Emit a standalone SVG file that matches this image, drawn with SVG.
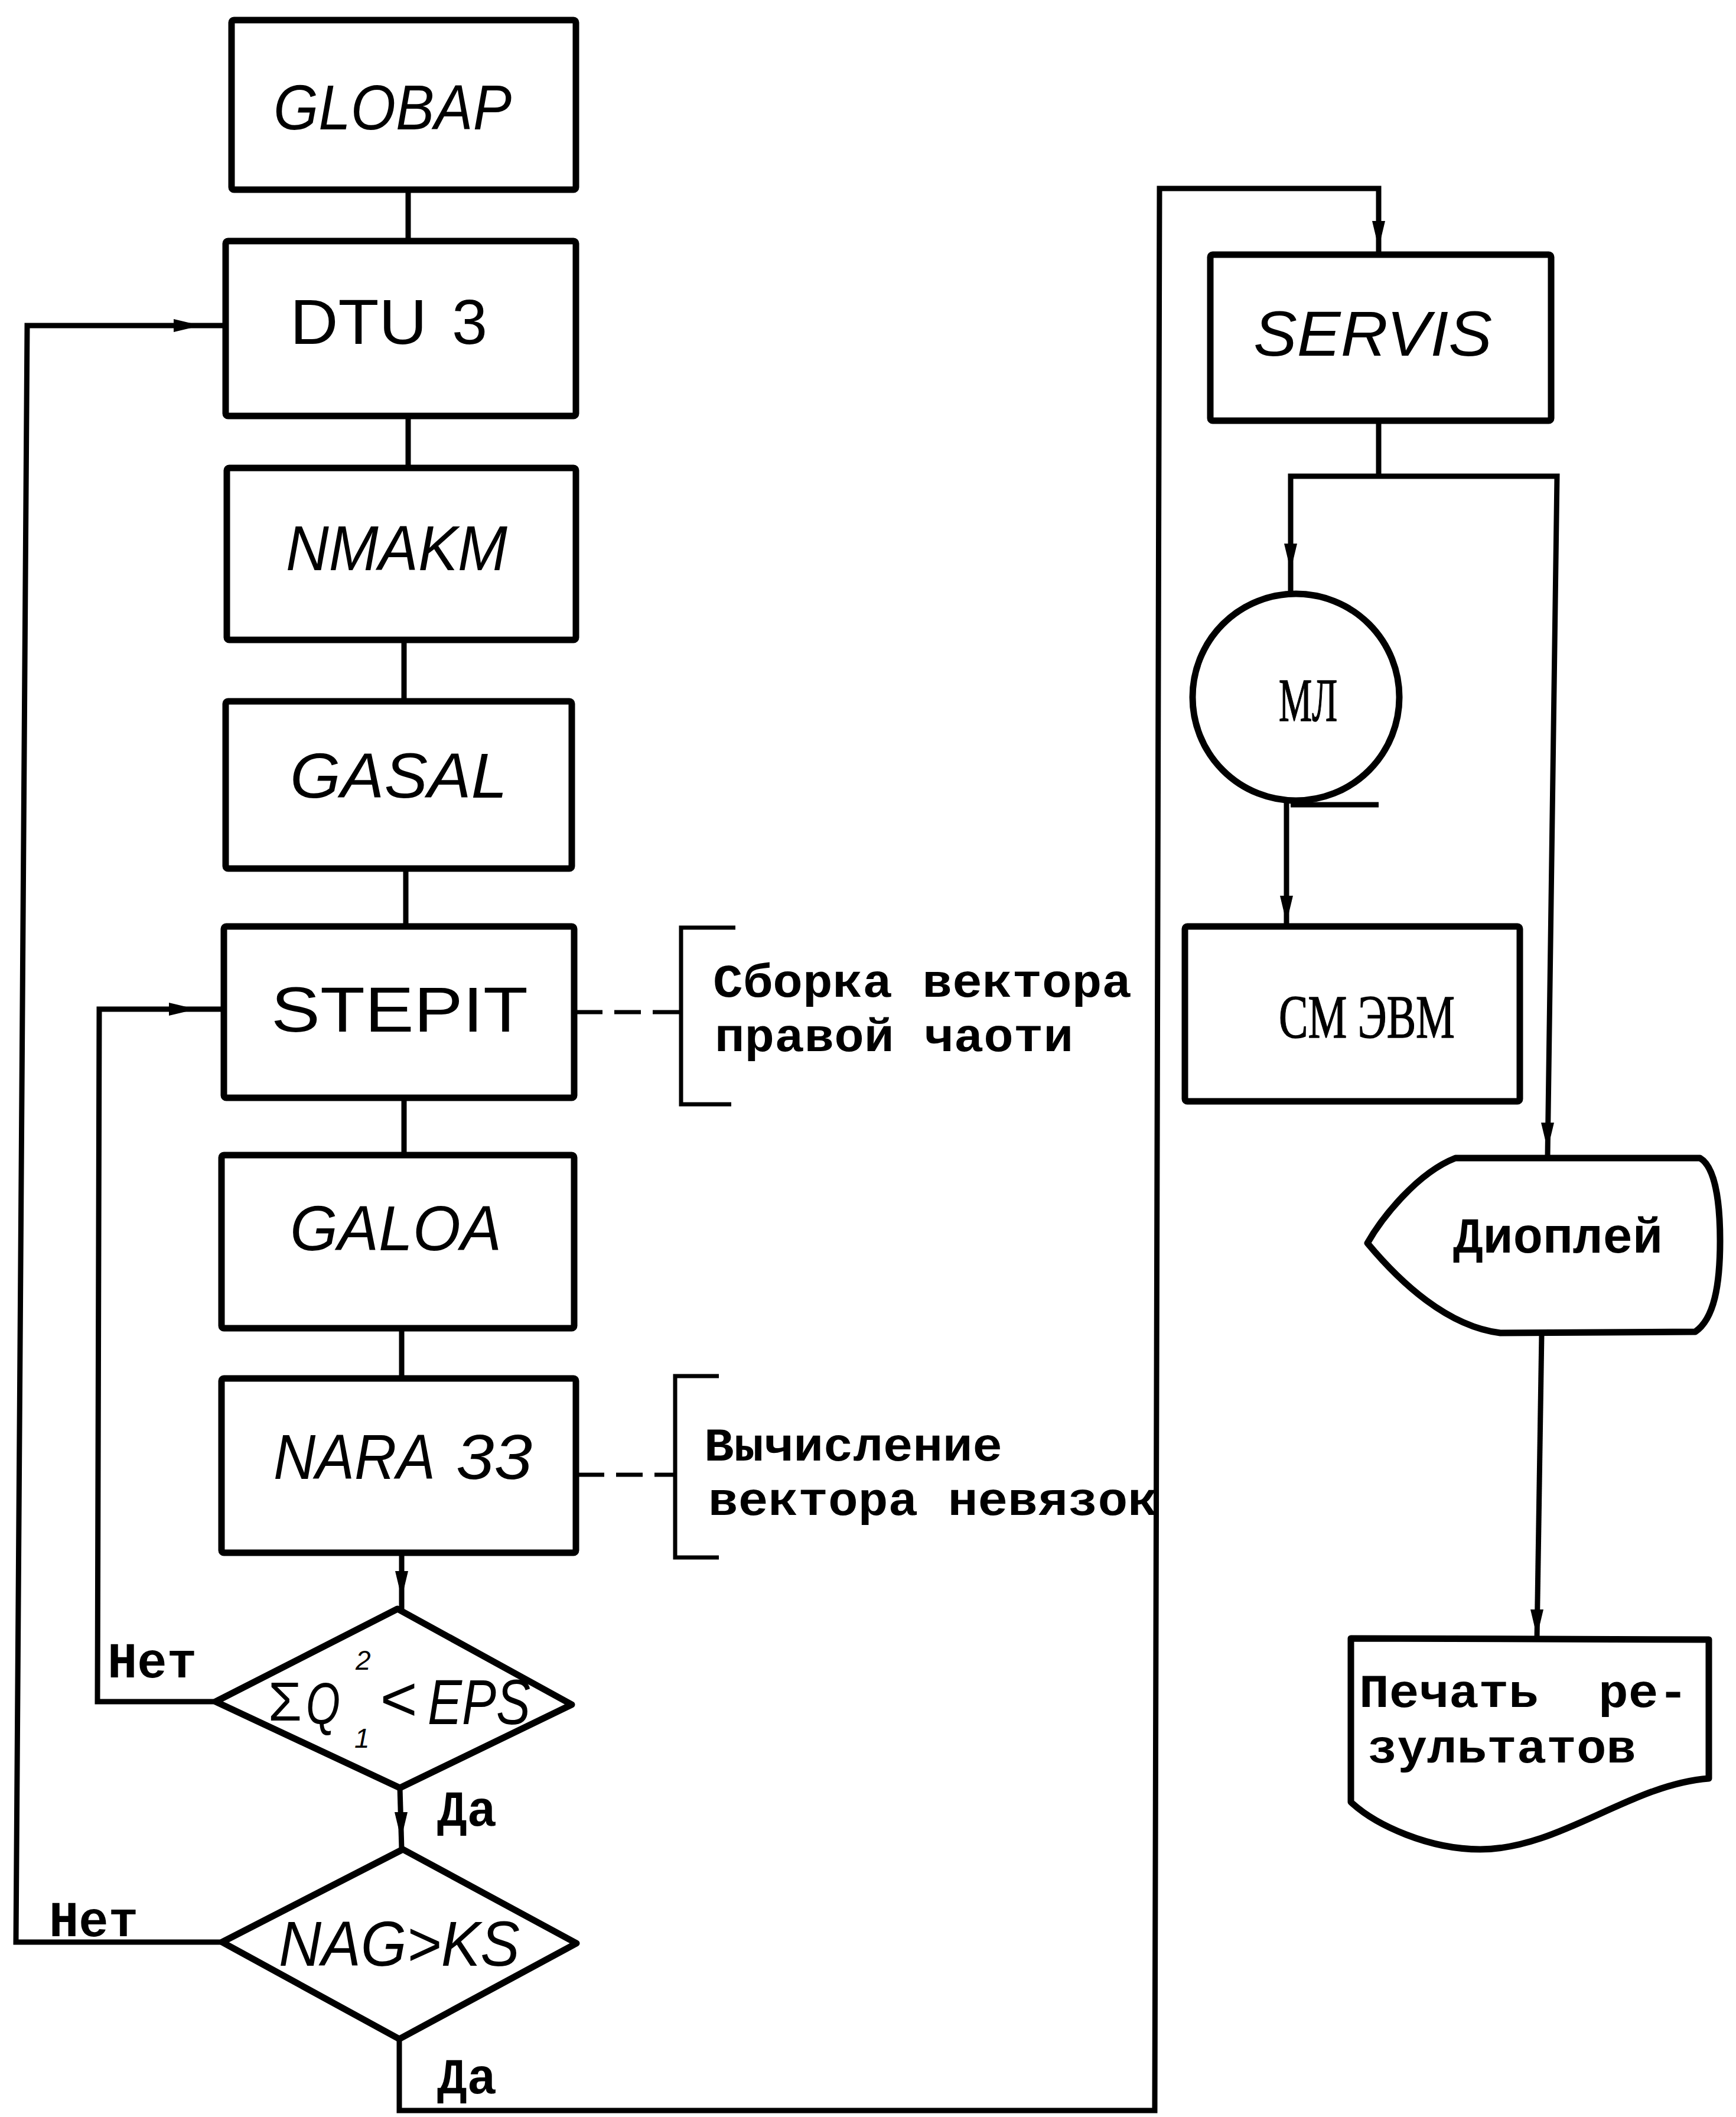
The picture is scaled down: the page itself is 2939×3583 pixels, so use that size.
<svg xmlns="http://www.w3.org/2000/svg" xmlns:xlink="http://www.w3.org/1999/xlink" width="2939" height="3583" viewBox="0 0 2939 3583">
<style>
.box{fill:#fff;stroke:#000;stroke-width:11;stroke-linejoin:round}
.ln{fill:none;stroke:#000;stroke-width:9;stroke-linejoin:miter}
.br{fill:none;stroke:#000;stroke-width:7}
.dash{fill:none;stroke:#000;stroke-width:7;stroke-dasharray:45 20}
.hand{font-family:"Liberation Sans",Arial,sans-serif;font-size:108px;font-style:italic;fill:#000}
.up{font-style:normal}
.tw{font-family:"Liberation Mono","Courier New",monospace;font-weight:bold;font-size:86px;fill:#000}
.tw2{font-size:80px}
.ser{font-family:"Liberation Serif","Times New Roman",serif;font-size:104px;fill:#000;stroke:#000;stroke-width:1.5}
</style>
<defs>
<path id="ah" d="M0,0 L-11,-46 L11,-46 Z" fill="#000"/>
</defs>
<rect width="2939" height="3583" fill="#fff"/>
<g id="c-stepit">
<path class="br" d="M1245,1570 H1153 V1869 H1238"/>
<text class="tw tw2" x="1207" y="1687" textLength="709" lengthAdjust="spacingAndGlyphs">Сборка вектора</text>
<text class="tw tw2" x="1210" y="1779" textLength="607" lengthAdjust="spacingAndGlyphs">правой чаоти</text>
</g>
<g id="c-nara33">
<path class="br" d="M1217,2329 H1143 V2636 H1217"/>
<text class="tw tw2" x="1192" y="2472" textLength="505" lengthAdjust="spacingAndGlyphs">Вычисление</text>
<text class="tw tw2" x="1199" y="2564" textLength="761" lengthAdjust="spacingAndGlyphs">вектора невязок</text>
</g>
<g id="connectors">
<path class="ln" d="M691,321 V408"/>
<path class="ln" d="M691,704 V792"/>
<path class="ln" d="M684,1083 V1187"/>
<path class="ln" d="M687,1470 V1568"/>
<path class="ln" d="M684,1858 V1955"/>
<path class="ln" d="M680,2248 V2333"/>
<path class="ln" d="M680,2628 V2723"/>
<path class="ln" d="M677,3026 L680,3130"/>
<path class="ln" d="M676,3451 V3572 H1955 L1963,319 H2334 V431"/>
<path class="ln" d="M376,3287 H27 L46,551 H382"/>
<path class="ln" d="M365,2880 H165 L168,1708 H379"/>
<path class="ln" d="M2334,712 V806"/>
<path class="ln" d="M2185,1005 V806 H2636 L2620,1957"/>
<path class="ln" d="M2178,1355 V1568"/>
<path class="ln" d="M2185,1362 H2334"/>
<path class="ln" d="M2610,2257 L2602,2773"/>
<path class="dash" d="M975,1713 H1153"/>
<path class="dash" d="M978,2496 H1143"/>
<use xlink:href="#ah" transform="translate(340,551) rotate(-90)"/>
<use xlink:href="#ah" transform="translate(332,1708) rotate(-90)"/>
<use xlink:href="#ah" transform="translate(680,2705)"/>
<use xlink:href="#ah" transform="translate(679,3113)"/>
<use xlink:href="#ah" transform="translate(2334,420)"/>
<use xlink:href="#ah" transform="translate(2185,966)"/>
<use xlink:href="#ah" transform="translate(2178,1562)"/>
<use xlink:href="#ah" transform="translate(2620,1946)"/>
<use xlink:href="#ah" transform="translate(2602,2770)"/>
<text class="tw" x="182" y="2839" textLength="151" lengthAdjust="spacingAndGlyphs">Нет</text>
<text class="tw" x="740" y="3090" textLength="101" lengthAdjust="spacingAndGlyphs">Да</text>
<text class="tw" x="83" y="3277" textLength="151" lengthAdjust="spacingAndGlyphs">Нет</text>
<text class="tw" x="740" y="3543" textLength="101" lengthAdjust="spacingAndGlyphs">Да</text>
</g>
<g id="n-globap">
<rect class="box" x="392" y="34" width="583" height="287" rx="4"/>
<text class="hand" x="463" y="219" textLength="403" lengthAdjust="spacingAndGlyphs">GLOBAP</text>
</g>
<g id="n-dtu3">
<rect class="box" x="382" y="408" width="593" height="296" rx="4"/>
<text class="hand up"><tspan x="491" y="582" textLength="232" lengthAdjust="spacingAndGlyphs">DTU</tspan><tspan x="765" y="582">3</tspan></text>
</g>
<g id="n-nmakm">
<rect class="box" x="384" y="792" width="591" height="291" rx="4"/>
<text class="hand" x="484" y="965" textLength="375" lengthAdjust="spacingAndGlyphs">NMAKM</text>
</g>
<g id="n-gasal">
<rect class="box" x="382" y="1187" width="586" height="283" rx="4"/>
<text class="hand" x="491" y="1350" textLength="368" lengthAdjust="spacingAndGlyphs">GASAL</text>
</g>
<g id="n-stepit">
<rect class="box" x="379" y="1568" width="593" height="290" rx="4"/>
<text class="hand up" x="459" y="1746" textLength="435" lengthAdjust="spacingAndGlyphs">STEPIT</text>
</g>
<g id="n-galoa">
<rect class="box" x="375" y="1955" width="597" height="293" rx="4"/>
<text class="hand" x="491" y="2116" textLength="358" lengthAdjust="spacingAndGlyphs">GALOA</text>
</g>
<g id="n-nara33">
<rect class="box" x="375" y="2333" width="600" height="295" rx="4"/>
<text class="hand"><tspan x="463" y="2503" textLength="274" lengthAdjust="spacingAndGlyphs">NARA</tspan><tspan x="772" y="2503" textLength="129" lengthAdjust="spacingAndGlyphs">33</tspan></text>
</g>
<g id="n-cond1">
<path class="box" d="M673,2723 L968,2885 L677,3026 L365,2880 Z"/>
<text class="hand"><tspan x="454" y="2912" font-style="normal" font-size="92">Σ</tspan><tspan x="518" y="2918" font-size="100" textLength="58" lengthAdjust="spacingAndGlyphs">Q</tspan><tspan x="602" y="2826" font-size="46">2</tspan><tspan x="600" y="2958" font-size="46">1</tspan><tspan x="642" y="2912">&lt;</tspan><tspan x="724" y="2918" textLength="174" lengthAdjust="spacingAndGlyphs">EPS</tspan></text>
</g>
<g id="n-cond2">
<path class="box" d="M682,3130 L976,3289 L676,3451 L376,3287 Z"/>
<text class="hand" x="472" y="3327" textLength="408" lengthAdjust="spacingAndGlyphs">NAG&gt;KS</text>
</g>
<g id="n-servis">
<rect class="box" x="2049" y="431" width="577" height="281" rx="4"/>
<text class="hand" x="2122" y="602" textLength="404" lengthAdjust="spacingAndGlyphs">SERVIS</text>
</g>
<g id="n-ml">
<circle class="box" cx="2194" cy="1180" r="175"/>
<text class="ser" x="2165" y="1220" textLength="99" lengthAdjust="spacingAndGlyphs">МЛ</text>
</g>
<g id="n-smevm">
<rect class="box" x="2006" y="1568" width="567" height="296" rx="4"/>
<text class="ser" x="2165" y="1756" textLength="298" lengthAdjust="spacingAndGlyphs">СМ ЭВМ</text>
</g>
<g id="n-display">
<path class="box" d="M2464,1960 L2878,1960 C2904,1975 2912,2035 2912,2100 C2912,2175 2902,2232 2870,2254 L2540,2256 C2450,2245 2370,2170 2315,2104 C2340,2060 2400,1985 2464,1960 Z"/>
<text class="tw" x="2460" y="2120" textLength="355" lengthAdjust="spacingAndGlyphs">Диоплей</text>
</g>
<g id="n-print">
<path class="box" d="M2287,2773 L2893,2775 L2893,3010 C2760,3020 2640,3130 2506,3130 C2420,3130 2330,3090 2287,3050 Z"/>
<text class="tw tw2" xml:space="preserve" x="2301" y="2889" textLength="557" lengthAdjust="spacingAndGlyphs">Печать  ре-</text>
<text class="tw tw2" x="2315" y="2983" textLength="455" lengthAdjust="spacingAndGlyphs">зультатов</text>
</g>
</svg>
